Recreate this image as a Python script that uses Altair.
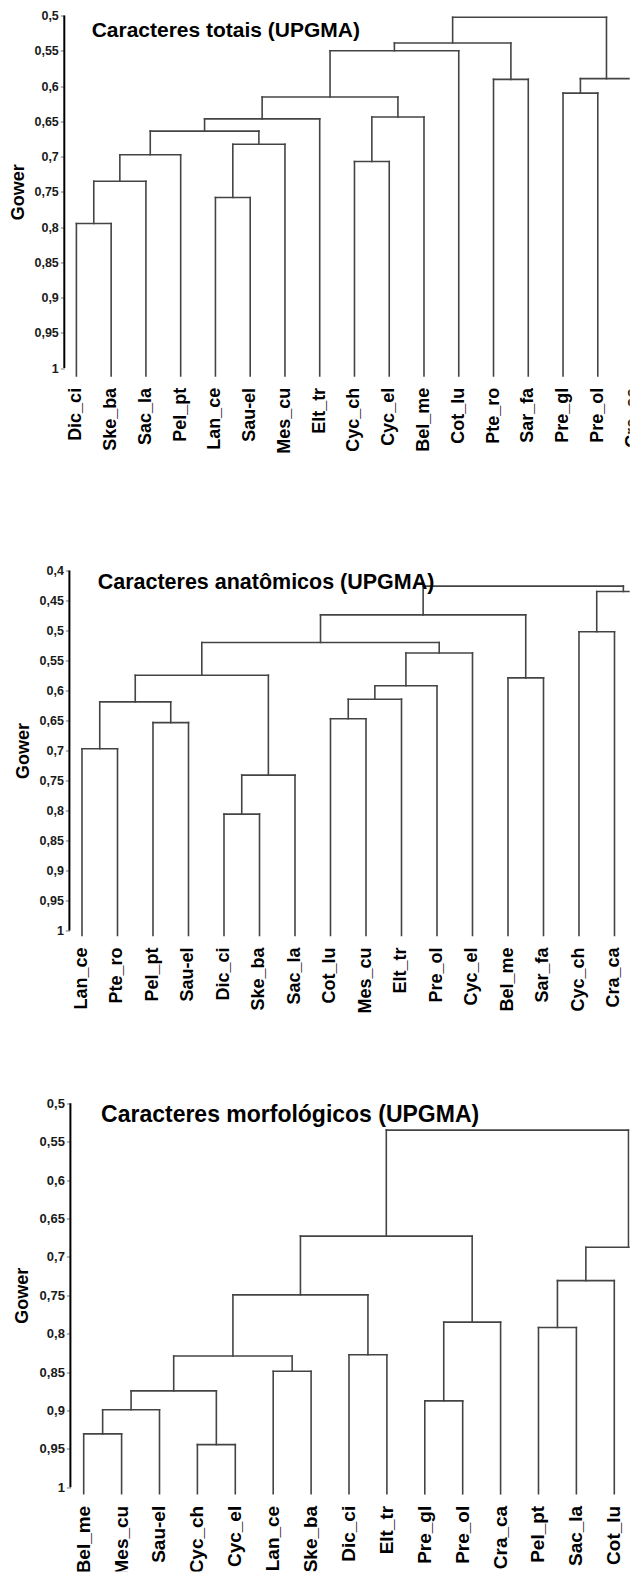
import altair as alt
import pandas as pd

FONT = "Liberation Sans"

# ---------------- data ----------------
leaves_total = ["Dic_ci", "Ske_ba", "Sac_la", "Pel_pt", "Lan_ce", "Sau-el", "Mes_cu", "Elt_tr",
                "Cyc_ch", "Cyc_el", "Bel_me", "Cot_lu", "Pte_ro", "Sar_fa", "Pre_gl", "Pre_ol", "Cra_ca"]
# (left child, right child, Gower level); int = earlier merge index
merges_total = [
    ("Dic_ci", "Ske_ba", 0.795), (0, "Sac_la", 0.735), (1, "Pel_pt", 0.6975),
    ("Lan_ce", "Sau-el", 0.758), (3, "Mes_cu", 0.6825), (2, 4, 0.664), (5, "Elt_tr", 0.6465),
    ("Cyc_ch", "Cyc_el", 0.707), (7, "Bel_me", 0.644), (6, 8, 0.6155), (9, "Cot_lu", 0.550),
    ("Pte_ro", "Sar_fa", 0.5905), (10, 11, 0.539), ("Pre_gl", "Pre_ol", 0.610),
    (13, "Cra_ca", 0.5895), (12, 14, 0.5025),
]

leaves_anat = ["Lan_ce", "Pte_ro", "Pel_pt", "Sau-el", "Dic_ci", "Ske_ba", "Sac_la", "Cot_lu",
               "Mes_cu", "Elt_tr", "Pre_ol", "Cyc_el", "Bel_me", "Sar_fa", "Cyc_ch", "Cra_ca", "Pre_gl"]
merges_anat = [
    ("Lan_ce", "Pte_ro", 0.697), ("Pel_pt", "Sau-el", 0.6535), (0, 1, 0.619),
    ("Dic_ci", "Ske_ba", 0.806), (3, "Sac_la", 0.741), (2, 4, 0.5745),
    ("Cot_lu", "Mes_cu", 0.647), (6, "Elt_tr", 0.6145), (7, "Pre_ol", 0.592), (8, "Cyc_el", 0.5375),
    (5, 9, 0.520), ("Bel_me", "Sar_fa", 0.579), (10, 11, 0.474),
    ("Cyc_ch", "Cra_ca", 0.502), (13, "Pre_gl", 0.435), (12, 14, 0.426),
]

leaves_morf = ["Bel_me", "Mes_cu", "Sau-el", "Cyc_ch", "Cyc_el", "Lan_ce", "Ske_ba", "Dic_ci", "Elt_tr",
               "Pre_gl", "Pre_ol", "Cra_ca", "Pel_pt", "Sac_la", "Cot_lu", "Pte_ro", "Sar_fa"]
merges_morf = [
    ("Bel_me", "Mes_cu", 0.9305), (0, "Sau-el", 0.899), ("Cyc_ch", "Cyc_el", 0.9445), (1, 2, 0.8745),
    ("Lan_ce", "Ske_ba", 0.849), (3, 4, 0.829), ("Dic_ci", "Elt_tr", 0.8275), (5, 6, 0.7495),
    ("Pre_gl", "Pre_ol", 0.8875), (8, "Cra_ca", 0.785), (7, 9, 0.673),
    ("Pel_pt", "Sac_la", 0.792), (11, "Cot_lu", 0.731), ("Pte_ro", "Sar_fa", 0.760),
    (12, 13, 0.6875), (10, 14, 0.535),
]

ticks_total = [0.5, 0.55, 0.6, 0.65, 0.7, 0.75, 0.8, 0.85, 0.9, 0.95, 1.0]
ticks_anat = [0.4, 0.45, 0.5, 0.55, 0.6, 0.65, 0.7, 0.75, 0.8, 0.85, 0.9, 0.95, 1.0]
ticks_morf = [0.5, 0.55, 0.6, 0.65, 0.7, 0.75, 0.8, 0.85, 0.9, 0.95, 1.0]

titles = ["Caracteres totais (UPGMA)", "Caracteres anatômicos (UPGMA)", "Caracteres morfológicos (UPGMA)"]

# ---------------- layout ----------------
X0 = 66.0      # page x of plot origin
W = 566        # plot width (stops just inside the page so nothing overflows)

def segments(leaves, merges, base):
    pos = {n: i for i, n in enumerate(leaves)}
    nodes = []

    def get(c):
        if isinstance(c, str):
            return pos[c], base
        return nodes[c]

    rows = []
    for a, b, h in merges:
        xa, ha = get(a)
        xb, hb = get(b)
        rows.append(dict(x=xa, x2=xa, y=ha, y2=h))
        rows.append(dict(x=xb, x2=xb, y=hb, y2=h))
        rows.append(dict(x=xa, x2=xb, y=h, y2=h))
        nodes.append(((xa + xb) / 2.0, h))
    return pd.DataFrame(rows)


def panel(title, leaves, merges, ticks, c):
    df = segments(leaves, merges, c["base"])
    ppu = c["ppu"]
    top, bottom = c["plot_top"], c["plot_bottom"]
    lo = ticks[0] - (c["tick_top_y"] - top) / ppu
    hi = lo + (bottom - top) / ppu
    height = bottom - top
    step = c["step"]
    xlo = (X0 - c["first"]) / step
    xhi = xlo + W / step
    mid = (ticks[0] + 1.0) / 2.0
    off = X0 - c["axis_x"]

    xs = alt.Scale(domain=[xlo, xhi], nice=False, zero=False)
    ys = alt.Scale(domain=[lo, hi], reverse=True, nice=False, zero=False)

    y_axis = alt.Axis(values=ticks, tickCount=len(ticks), format=".2~f",
                      labelExpr="replace(datum.label, '.', ',')",
                      title="Gower", titleFont=FONT, titleFontSize=18, titleFontWeight="bold",
                      titleColor="#000", titlePadding=c["tpad"], titleY=(mid - lo) * ppu,
                      grid=False, domain=False, tickSize=4, tickColor="#777", tickWidth=1,
                      labelPadding=2, labelFont=FONT, labelFontSize=c["yfs"], labelFontWeight="bold",
                      labelColor="#1a1a1a", labelOverlap=False, labelFlush=False, offset=off)

    lines = alt.Chart(df).mark_rule(color="#444", strokeWidth=1.6, clip=True, strokeCap="square").encode(
        x=alt.X("x:Q", scale=xs, axis=None),
        x2="x2:Q",
        y=alt.Y("y:Q", scale=ys, axis=y_axis),
        y2="y2:Q",
    )
    axis_line = alt.Chart(pd.DataFrame({"k": [0]})).mark_rule(color="#000", strokeWidth=2).encode(
        x=alt.value(-off),
        y=alt.datum(ticks[0]),
        y2=alt.datum(1.0),
    )
    lab_df = pd.DataFrame({"i": list(range(len(leaves))), "name": leaves,
                           "ly": [c["base"] + 12.0 / ppu] * len(leaves)})
    labels = alt.Chart(lab_df).mark_text(
        angle=270, align="right", baseline="middle", font=FONT, fontSize=c["xfs"],
        fontWeight="bold", color="#000", clip=True
    ).encode(
        x=alt.X("i:Q", scale=xs, axis=None),
        y=alt.Y("ly:Q", scale=ys),
        text="name:N",
    )
    head = alt.Chart(pd.DataFrame({"t": [title]})).mark_text(
        align="left", baseline="alphabetic", font=FONT, fontSize=c["tfs"], fontWeight="bold", color="#000"
    ).encode(
        text="t:N",
        x=alt.value(c["title_x"] - X0),
        y=alt.value(c["title_base_y"] - top),
    )
    return alt.layer(lines, axis_line, labels, head).properties(width=W, height=height)


cfg_total = dict(first=78.7, step=34.76, ppu=705.2, base=1.011, tick_top_y=15.7,
                 plot_top=15.7, plot_bottom=500.0, axis_x=66.6,
                 yfs=12.5, xfs=18, tfs=21, title_x=94.0, title_base_y=36.7, tpad=6.5)
cfg_anat = dict(first=84.3, step=35.5, ppu=600.0, base=1.0083, tick_top_y=570.0,
                plot_top=500.0, plot_bottom=1045.0, axis_x=71.7,
                yfs=12.5, xfs=18, tfs=21.5, title_x=100.0, title_base_y=588.3, tpad=6.2)
cfg_morf = dict(first=86.0, step=37.9, ppu=768.2, base=1.0085, tick_top_y=1102.7,
                plot_top=1045.0, plot_bottom=1571.0, axis_x=72.7,
                yfs=13, xfs=19, tfs=23, title_x=103.4, title_base_y=1121.7, tpad=7.5)

p1 = panel(titles[0], leaves_total, merges_total, ticks_total, cfg_total)
p2 = panel(titles[1], leaves_anat, merges_anat, ticks_anat, cfg_anat)
p3 = panel(titles[2], leaves_morf, merges_morf, ticks_morf, cfg_morf)

chart = alt.vconcat(p1, p2, p3, spacing=0).properties(
    padding={"left": 0.7, "top": 1.5, "right": 0, "bottom": 0},
    background="white",
).configure_view(stroke=None)

chart.save("out.html", embed_options={"renderer": "svg", "actions": False})
